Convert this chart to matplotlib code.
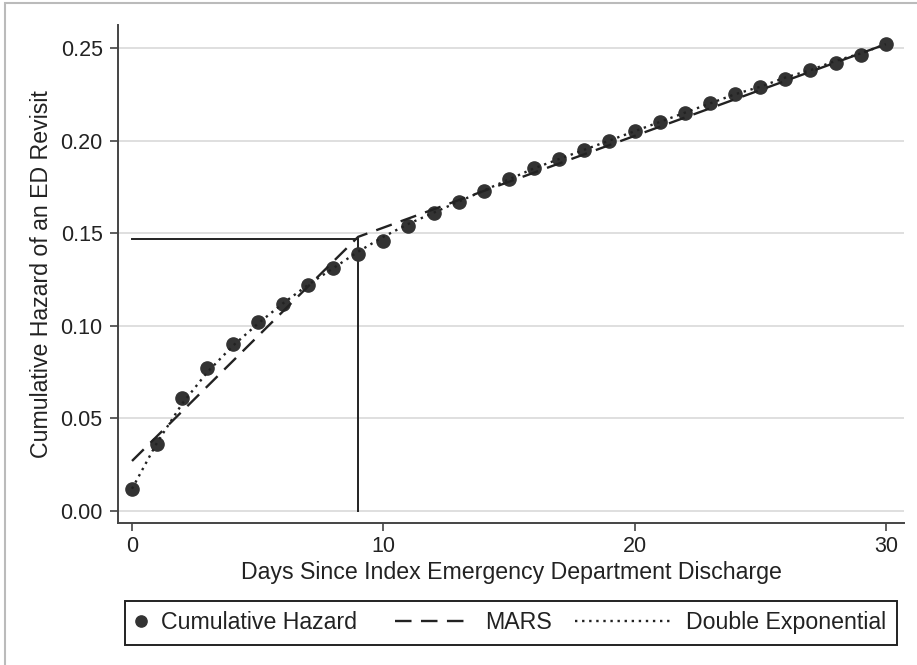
import matplotlib.pyplot as plt
from matplotlib.patches import Rectangle

days = list(range(31))
hazard = [0.012, 0.036, 0.061, 0.077, 0.090, 0.102, 0.112, 0.122, 0.131, 0.139,
          0.146, 0.154, 0.161, 0.167, 0.173, 0.179, 0.185, 0.190, 0.195, 0.200,
          0.205, 0.210, 0.215, 0.220, 0.225, 0.229, 0.233, 0.238, 0.242, 0.246, 0.252]
# fitted curves
mars_x = [0, 9, 30]
mars_y = [0.027, 0.148, 0.252]
dexp = [0.012, 0.037, 0.058, 0.075, 0.089, 0.101, 0.112, 0.122, 0.131, 0.140,
        0.148, 0.155, 0.161, 0.167, 0.173, 0.179, 0.185, 0.190, 0.195, 0.200,
        0.205, 0.210, 0.215, 0.220, 0.225, 0.229, 0.234, 0.238, 0.243, 0.247, 0.252]
knot_x = 9
knot_y = 0.147

plt.rcParams['font.family'] = 'Liberation Sans'
fs = 16.7
fig = plt.figure(figsize=(9.17, 6.65), dpi=100)
# thin gray frame around the picture
fig.patches.append(Rectangle((5 / 917, -0.01), 1.0, 1.0 - 3 / 665 + 0.01, transform=fig.transFigure,
                             fill=False, edgecolor='#bbbbbb', lw=1.5))
ax = fig.add_axes([0.1287, 0.2135, 0.857, 0.749])

ax.plot([0, knot_x], [knot_y, knot_y], color='#222222', lw=1.4)
ax.plot([knot_x, knot_x], [0, knot_y], color='#222222', lw=1.4)
pts, = ax.plot(days, hazard, 'o', color='#333333', ms=9.5, label='Cumulative Hazard')
m, = ax.plot(mars_x, mars_y, color='#222222', lw=1.7, dashes=(7, 4), label='MARS')
d, = ax.plot(days, dexp, color='#222222', lw=1.7, linestyle=(0, (1, 2)), label='Double Exponential')

ax.set_xlim(-0.557, 30.72)
ax.set_ylim(-0.0065, 0.2624)
ax.set_xticks([0, 10, 20, 30])
ax.set_yticks([0, 0.05, 0.10, 0.15, 0.20, 0.25])
ax.set_yticklabels(['0.00', '0.05', '0.10', '0.15', '0.20', '0.25'])
ax.grid(axis='y', color='#dcdcdc', lw=1.3)
ax.set_axisbelow(True)
for s in ['top', 'right']:
    ax.spines[s].set_visible(False)
for s in ['left', 'bottom']:
    ax.spines[s].set_color('#444444')
    ax.spines[s].set_linewidth(1.4)
ax.tick_params(labelsize=15.5, length=6, width=1.2, color='#444444', labelcolor='#222222')
ax.tick_params(axis='y', pad=5)
ax.tick_params(axis='x', pad=3)
ax.set_xlabel('Days Since Index Emergency Department Discharge', fontsize=fs, color='#222222', labelpad=3)
ax.set_ylabel('Cumulative Hazard of an ED Revisit', fontsize=fs, color='#222222', labelpad=5)

# legend box below the plot, entries packed like the original
fig.patches.append(Rectangle((125 / 917, 0.0301), 772 / 917, 0.0662, transform=fig.transFigure,
                             fill=False, edgecolor='#222222', lw=1.4))
ly = 0.0632
specs = [(pts, 132, 0.8, 0.45), (m, 395, 3.3, 0.6), (d, 575, 4.15, 0.65)]
for h, x0, hl, tp in specs:
    lg = fig.legend(handles=[h], loc='center left', bbox_to_anchor=(x0 / 917, ly),
                    frameon=False, fontsize=fs, borderpad=0, borderaxespad=0,
                    handlelength=hl, handletextpad=tp, markerscale=0.85)
    for t in lg.get_texts():
        t.set_color('#222222')

fig.savefig('out.png', dpi=100)
